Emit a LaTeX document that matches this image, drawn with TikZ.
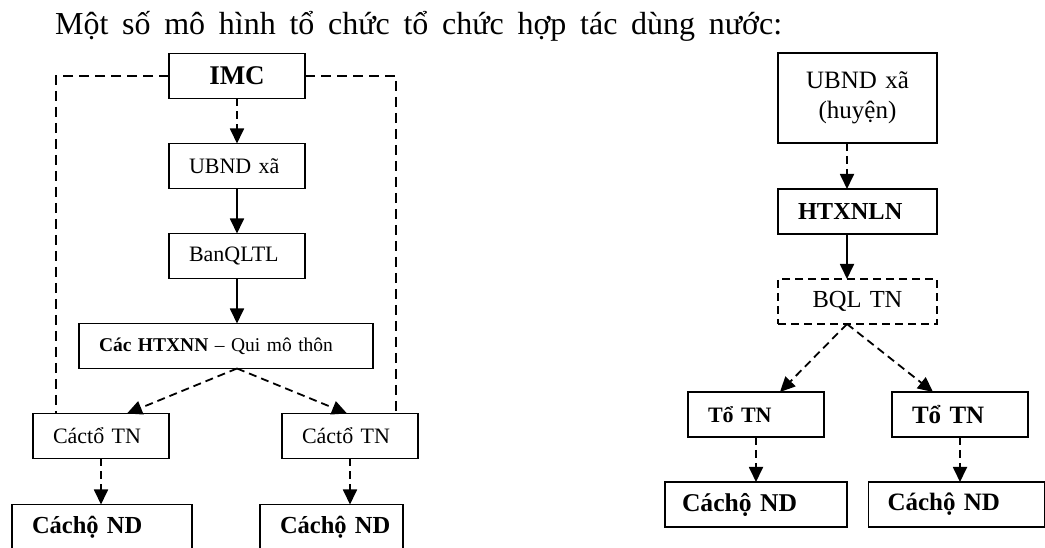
\documentclass[tikz,border=0pt]{standalone}
\usepackage{fontspec}
\setmainfont{Liberation Serif}
\usepackage{tikz}
\usetikzlibrary{arrows.meta, positioning}
\tikzstyle{box} = [draw, rectangle, line width=1.8pt, outer sep=0pt, minimum height=45pt, inner xsep=20pt, inner ysep=2pt, align=left, text width=96pt]
\tikzstyle{dbox} = [box, dash pattern=on 8pt off 5pt]
\tikzstyle{txt} = [font=\fontsize{22}{26}\selectfont]
\tikzstyle{btxt} = [font=\fontsize{24.5}{29}\selectfont\bfseries]
\tikzstyle{link} = [-{Triangle[length=15pt, width=14pt]}, line width=1.8pt]
\tikzstyle{dlink} = [link, dash pattern=on 8pt off 5pt]
\tikzstyle{frame} = [line width=1.6pt, dash pattern=on 10pt off 6pt]

\begin{document}
\begin{tikzpicture}[x=1pt, y=1pt, node distance=45pt]
    \useasboundingbox (0,0) rectangle (1045,548);
    \clip (0,0) rectangle (1045,548);

    % Title.
    \node (title) [anchor=base west, inner sep=0pt, font=\fontsize{32}{38}\selectfont] at (55,513)
        {\makebox[727pt][s]{Một số mô hình tổ chức tổ chức hợp tác dùng nước:}};

    % Left model.
    \node (imc) [box, align=center, font=\fontsize{27}{31}\selectfont\bfseries] at (237,472) {IMC};
    \node (ubndL) [box, txt, below=of imc] {UBND xã};
    \node (banql) [box, txt, below=of ubndL] {BanQLTL};
    \node (htx) [box, font=\fontsize{19.5}{24}\selectfont, text width=254pt, below=of banql, xshift=-11pt]
        {\textbf{Các HTXNN} – Qui mô thôn};
    \node (toL) [box, txt, below=of htx, xshift=-125pt] {Cáctổ TN};
    \node (toR) [box, txt, below=of htx, xshift=124pt] {Cáctổ TN};
    \node (hoL) [box, btxt, text width=140pt, below=46pt of toL, xshift=1pt] {Cáchộ ND};
    \node (hoR) [box, btxt, text width=103pt, below=46pt of toR, xshift=-18.5pt] {\mbox{Cáchộ ND}};

    % Right model.
    \node (ubndR) [box, align=center, text width=119pt, minimum height=90pt,
        font=\fontsize{25}{30}\selectfont] at (857.5,450) {UBND xã\\(huyện)};
    \node (htxnln) [box, font=\fontsize{24.4}{29}\selectfont\bfseries, text width=119pt, below=46pt of ubndR] {HTXNLN};
    \node (bql) [dbox, align=center, text width=119pt, font=\fontsize{24.5}{29}\selectfont, below=of htxnln] {BQL TN};
    \node (toTL) [box, font=\fontsize{22}{26}\selectfont\bfseries, below=68pt of bql, xshift=-101.5pt] {Tổ TN};
    \node (toTR) [box, font=\fontsize{25}{29}\selectfont\bfseries, below=68pt of bql, xshift=102.5pt] {Tổ TN};
    \node (hoRL) [box, font=\fontsize{25.6}{30}\selectfont\bfseries, inner xsep=17pt, text width=148pt, below=of toTL] {Cáchộ ND};
    \node (hoRR) [box, font=\fontsize{25}{30}\selectfont\bfseries, inner xsep=19pt, text width=138pt, below=of toTR, xshift=-3.5pt] {Cáchộ ND};

    % Arrows, left model.
    \coordinate (htxout) at (banql.south |- htx.south);
    \draw [dlink] (imc) -- (ubndL);
    \draw [link] (ubndL) -- (banql);
    \draw [link] (banql.south) -- (banql.south |- htx.north);
    \draw [dlink] (htxout) -- ([xshift=26pt]toL.north);
    \draw [dlink] (htxout) -- ([xshift=-3pt]toR.north);
    \draw [dlink] (toL.south) -- (toL.south |- hoL.north);
    \draw [dlink] (toR.south) -- (toR.south |- hoR.north);
    \draw [frame] (imc.west) -| ([xshift=23pt]toL.north west);
    \draw [frame] (imc.east) -| ([xshift=-22pt]toR.north east);

    % Arrows, right model.
    \coordinate (bqlout) at ([xshift=-10.5pt]bql.south);
    \draw [dlink] ([xshift=-10.5pt]ubndR.south) -- ([xshift=-10.5pt]htxnln.north);
    \draw [link] ([xshift=-10.5pt]htxnln.south) -- ([xshift=-10.5pt]bql.north);
    \draw [dlink] (bqlout) -- ([xshift=24pt]toTL.north);
    \draw [dlink] (bqlout) -- ([xshift=-27pt]toTR.north);
    \draw [dlink] (toTL) -- (hoRL);
    \draw [dlink] (toTR.south) -- (toTR.south |- hoRR.north);
\end{tikzpicture}
\end{document}
